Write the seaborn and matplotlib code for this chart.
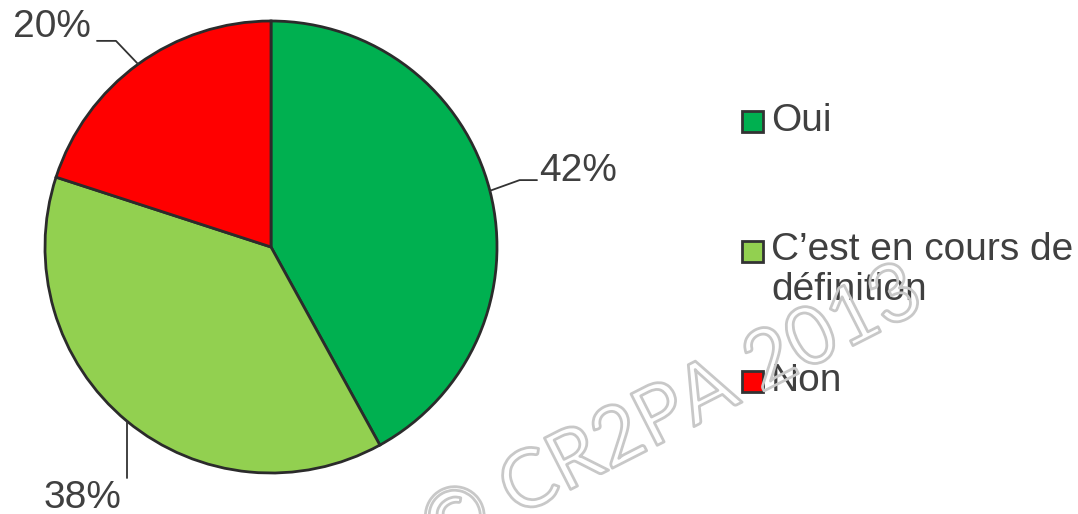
import numpy as np
import matplotlib
matplotlib.use("Agg")
import matplotlib.pyplot as plt
import matplotlib.patheffects as pe
from matplotlib.patches import Rectangle
import seaborn as sns

# Données du graphique
categories = ["Oui", "C\u2019est en cours de\nd\u00e9finition", "Non"]
parts = [42, 38, 20]
couleurs = ["#00B050", "#92D050", "#FF0000"]

sns.set_style("white")
plt.rcParams['font.family'] = ['Liberation Sans', 'DejaVu Sans']

W, H = 1078, 514
fig = plt.figure(figsize=(W / 100, H / 100), dpi=100)

# Axe du camembert (centre ~ (271, 247) px, rayon ~226 px)
cx, cy, r = 271, 247, 226
ax = fig.add_axes([(cx - r) / W, (H - cy - r) / H, 2 * r / W, 2 * r / H])
wedges, _ = ax.pie(parts, colors=couleurs, startangle=90, counterclock=False,
                   wedgeprops=dict(edgecolor="#2b2b2b", linewidth=2))
ax.set_xlim(-1, 1)
ax.set_ylim(-1, 1)
ax.set_aspect('auto')

gris = "#404040"

# Étiquettes avec lignes de rappel
# (décalages en coordonnées du camembert: coude, fin de ligne, position du texte)
reglages = [
    dict(coude=(1.10, 0.296), fin=(1.177, 0.296), txt=(1.188, 0.335), ha="left"),
    dict(coude=None, fin=(None, -1.022), txt=(-0.832, -1.11), ha="center"),
    dict(coude=(-0.686, 0.912), fin=(-0.77, 0.912), txt=(-0.795, 0.975), ha="right"),
]
for w, p, reg in zip(wedges, parts, reglages):
    a = np.deg2rad((w.theta1 + w.theta2) / 2)
    x0, y0 = np.cos(a), np.sin(a)
    if reg["coude"] is None:
        xs = [x0, x0]
        ys = [y0, reg["fin"][1]]
    else:
        xs = [x0, reg["coude"][0], reg["fin"][0]]
        ys = [y0, reg["coude"][1], reg["fin"][1]]
    ax.plot(xs, ys, color="#333333", lw=1.3, clip_on=False)
    ax.text(reg["txt"][0], reg["txt"][1], f"{p}%", ha=reg["ha"], va="center",
            fontsize=28, color=gris, clip_on=False)

# Légende dessinée à la main (carré aligné sur la première ligne)
leg_y = [121, 251, 381]
ecart = 38  # px entre deux lignes
for w, lab, y in zip(wedges, categories, leg_y):
    fig.patches.append(Rectangle((742 / W, (H - y - 10.5) / H), 21 / W, 21 / H,
                                 transform=fig.transFigure, facecolor=w.get_facecolor(),
                                 edgecolor="#333333", linewidth=2))
    n = lab.count("\n") + 1
    yc = y + (n - 1) * ecart / 2
    fig.text(771 / W, (H - yc) / H, lab, ha="left", va="center", fontsize=28,
             color=gris, linespacing=1.12)

# Filigrane
fig.text(672 / W, (H - 412) / H, "\u00a9 CR2PA 2013", rotation=27,
         rotation_mode="anchor", ha="center", va="center", fontsize=58,
         family=["Lato", "DejaVu Sans"], color=(1, 1, 1, 0),
         path_effects=[pe.Stroke(linewidth=2.0, foreground="#c8c8c8")])

fig.savefig("out.png", dpi=100)
